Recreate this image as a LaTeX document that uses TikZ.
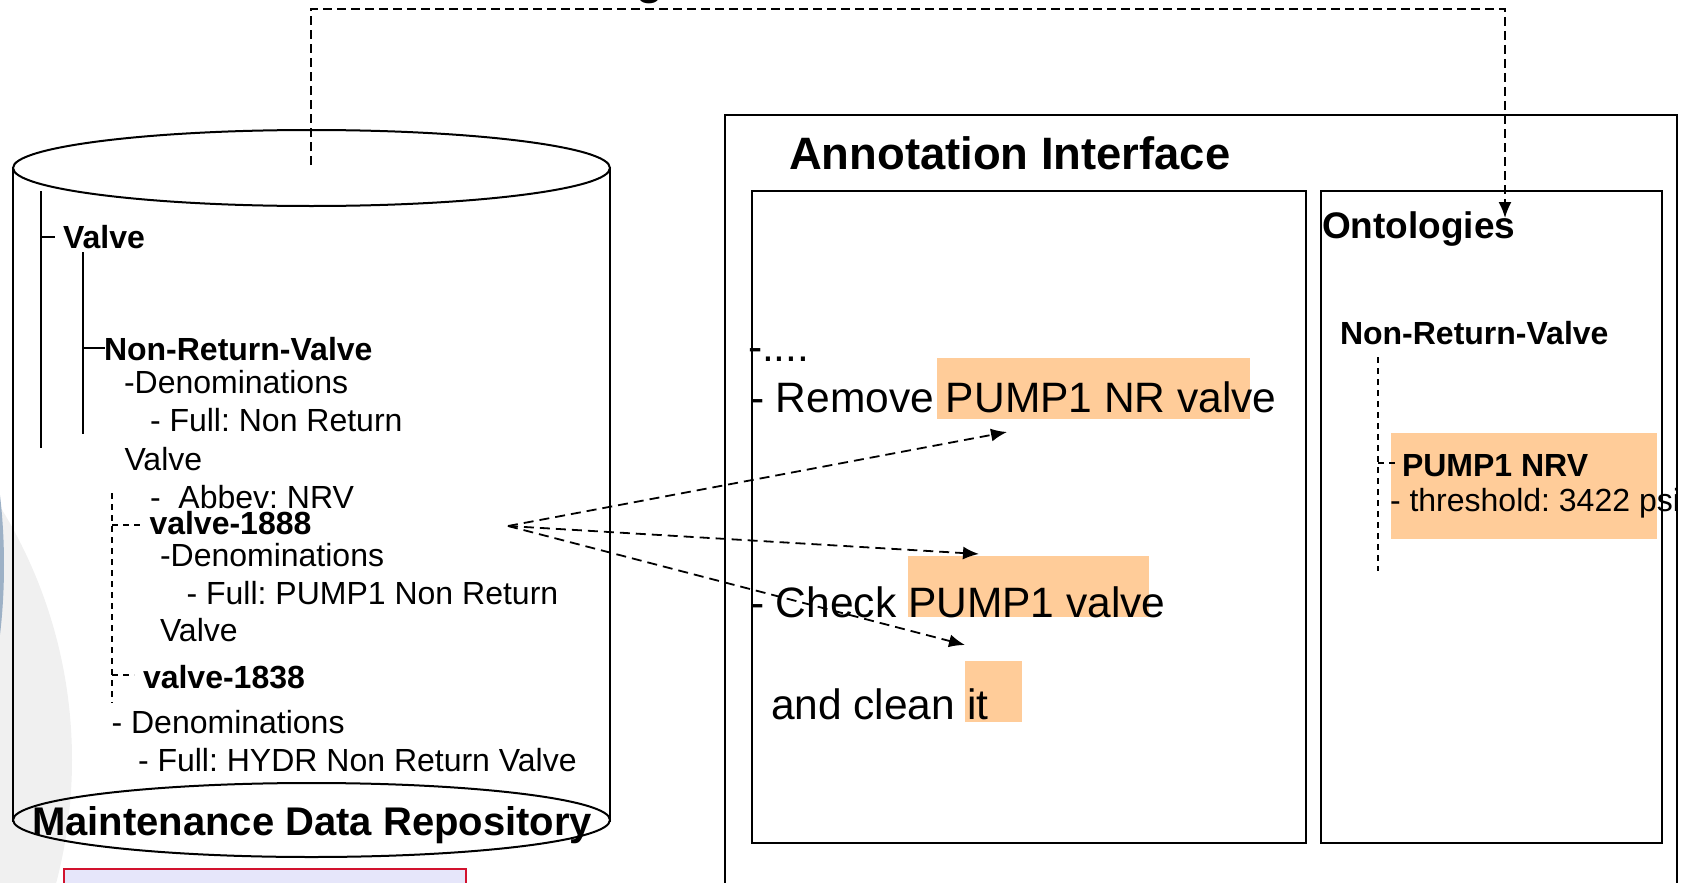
\documentclass[tikz,border=0pt]{standalone}
\usepackage{fontspec}
\setmainfont{Liberation Sans}
\usetikzlibrary{arrows.meta}
\definecolor{hl}{HTML}{FFCC99}
\definecolor{bggray}{HTML}{F0F0F0}
\definecolor{bgblue}{HTML}{9DB1C6}
\definecolor{redline}{HTML}{D2122E}
\definecolor{lav}{HTML}{E6E6FA}
\frenchspacing
\begin{document}
\begin{tikzpicture}[x=1pt,y=-1pt,
  txt/.style={anchor=base west, inner sep=0pt, outer sep=0pt},
  tree/.style={txt, font=\fontsize{32}{38}\selectfont},
  treeb/.style={txt, font=\fontsize{32}{38}\selectfont\bfseries},
  big/.style={txt, font=\fontsize{42.5}{50}\selectfont},
  dsh/.style={line width=1.8pt, dash pattern=on 9pt off 5pt},
  adsh/.style={line width=1.8pt, dash pattern=on 10pt off 6pt},
  tdsh/.style={line width=1.5pt, dash pattern=on 6pt off 5pt},
  tline/.style={line width=1.6pt},
  frame/.style={draw, line width=2pt, inner sep=0pt, outer sep=0pt},
  tip/.style={-{Latex[length=16pt,width=13pt]}},
]
\useasboundingbox (0,0) rectangle (1689,883);
\clip (0,0) rectangle (1689,883);
% background shapes
\fill[bggray] (-410,760) circle [radius=482];
\fill[bgblue] (-60,565) ellipse [x radius=64, y radius=200];
% partial title glyph at the top
\node[txt, font=\fontsize{44}{50}\selectfont\bfseries] (gfrag) at (636,-5) {g};
% cylinder
\draw[line width=2pt] (13,168) -- (13,822);
\draw[line width=2pt] (610,168) -- (610,822);
\draw[line width=2pt] (311.5,168) ellipse [x radius=298.5, y radius=38];
\draw[line width=2pt] (311.5,820) ellipse [x radius=298.5, y radius=37];
\coordinate (cyltop) at (311,165);
% red box
\draw[redline, fill=lav, line width=1.5pt] (64,869) rectangle (466,900);
% tree lines (solid)
\draw[tline] (41,191) -- (41,448);
\draw[tline] (41,237) -- (55,237);
\draw[tline] (83,252) -- (83,434);
\draw[tline] (83,348) -- (105,348);
% tree lines (dashed)
\draw[tdsh] (112,493) -- (112,703);
\draw[tdsh] (112,525) -- (140,525);
\draw[tdsh] (112,675) -- (134,675);
% cylinder texts
\node[treeb] (valve) at (63,248) {Valve};
\node[treeb] (nrv) at (104,360) {Non-Return-Valve};
\node[tree] (den1) at (124,393) {-Denominations};
\node[tree] (full1) at (150,431) {- Full: Non Return};
\node[tree] (valve1) at (124.5,470) {Valve};
\node[tree] (abb) at (150,508) {-\ \ Abbev: NRV};
\node[treeb] (v1888) at (149.5,534) {valve-1888};
\node[tree] (den2) at (160,566) {-Denominations};
\node[tree] (full2) at (186.6,604) {- Full: PUMP1 Non Return};
\node[tree] (valve2) at (160,641) {Valve};
\node[treeb] (v1838) at (143,688) {valve-1838};
\node[tree] (den3) at (111.6,733) {- Denominations};
\node[tree] (full3) at (138,771) {- Full: HYDR Non Return Valve};
\node[txt, font=\fontsize{40}{46}\selectfont\bfseries] (mdr) at (32,835) {Maintenance Data Repository};
% annotation interface
\draw[line width=2pt] (725,115) rectangle (1677,910);
\node[txt, font=\fontsize{45.4}{52}\selectfont\bfseries] (ai) at (789,169) {Annotation Interface};
\node[frame, anchor=north west, minimum width=554pt, minimum height=652pt] (docbox) at (752,191) {};
\node[frame, anchor=north west, minimum width=341pt, minimum height=652pt] (ontbox) at (1321,191) {};
% highlights
\fill[hl] (937,358) rectangle (1250,419);
\fill[hl] (908,556) rectangle (1149,617);
\fill[hl] (965,661) rectangle (1022,722);
\fill[hl] (1391,433) rectangle (1657,539);
% document texts
\node[big] (dots) at (748,361) {-....};
\node[big] (rem) at (750,412) {- Remove PUMP1 NR valve};
\node[big] (chk) at (750,617) {- Check PUMP1 valve};
\node[big] (cln) at (771,719) {and clean it};
% ontology texts
\node[txt, font=\fontsize{37}{43}\selectfont\bfseries] (ont) at (1322,238) {Ontologies};
\node[treeb] (onrv) at (1340,344) {Non-Return-Valve};
\draw[tdsh] (1378,357) -- (1378,571);
\draw[tdsh] (1378,463) -- (1399,463);
\node[treeb] (pump) at (1402,476) {PUMP1 NRV};
\node[tree] (thr) at (1390,511) {- threshold: 3422 psi};
% connectors
\coordinate (toprt) at (1505,9);
\coordinate (onttip) at (1505,218);
\draw[dsh, tip] (cyltop) |- (toprt) -- (onttip);
\coordinate (src) at (508,526);
\coordinate (t1) at (1007,432);
\coordinate (t2) at (979,554);
\coordinate (t3) at (965,645);
\draw[adsh, tip] (src) -- (t1);
\draw[adsh, tip] (src) -- (t2);
\draw[adsh, tip] (src) -- (t3);
\end{tikzpicture}
\end{document}
